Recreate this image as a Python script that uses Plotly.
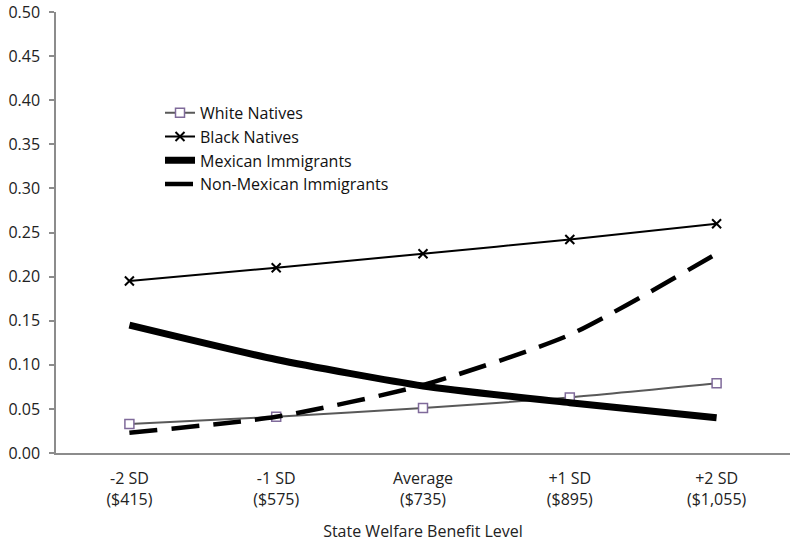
import plotly.graph_objects as go

categories = ["-2 SD<br>($415)", "-1 SD<br>($575)", "Average<br>($735)", "+1 SD<br>($895)", "+2 SD<br>($1,055)"]
white_natives = [0.033, 0.041, 0.051, 0.063, 0.079]
black_natives = [0.195, 0.210, 0.226, 0.242, 0.260]
mexican_imm = [0.145, 0.106, 0.076, 0.057, 0.040]
non_mexican_imm = [0.023, 0.041, 0.077, 0.134, 0.226]
y_ticks = [0.0, 0.05, 0.10, 0.15, 0.20, 0.25, 0.30, 0.35, 0.40, 0.45, 0.50]

font_family = "Open Sans, Noto Sans, sans-serif"

fig = go.Figure()
fig.add_trace(go.Scatter(
    x=categories, y=white_natives, name="White Natives", mode="lines+markers",
    line=dict(color="#595959", width=2, shape="spline", smoothing=0.6),
    marker=dict(symbol="square", size=9, color="white", line=dict(color="#7f6a9a", width=1.5)),
))
fig.add_trace(go.Scatter(
    x=categories, y=black_natives, name="Black Natives", mode="lines+markers",
    line=dict(color="black", width=2, shape="spline", smoothing=0.6),
    marker=dict(symbol="x-thin", size=9, color="black", line=dict(color="black", width=2)),
))
fig.add_trace(go.Scatter(
    x=categories, y=mexican_imm, name="Mexican Immigrants", mode="lines",
    line=dict(color="black", width=7, shape="spline", smoothing=0.6),
))
fig.add_trace(go.Scatter(
    x=categories, y=non_mexican_imm, name="Non-Mexican Immigrants", mode="lines",
    line=dict(color="black", width=4.5, shape="spline", smoothing=0.6, dash="28px,14px"),
))

fig.update_layout(
    width=800, height=547,
    margin=dict(l=56, r=10, t=12, b=94),
    paper_bgcolor="white", plot_bgcolor="white",
    font=dict(family=font_family, size=16, color="#222"),
    showlegend=True,
    legend=dict(x=0.1417, y=0.81, xanchor="left", yanchor="top",
                bgcolor="rgba(0,0,0,0)", font=dict(size=16, color="#111"),
                tracegroupgap=0),
    xaxis=dict(
        type="category", range=[-0.5, 4.5], automargin=False,
        showline=True, linecolor="#8c8c8c", linewidth=1.5,
        showgrid=False, ticks="", zeroline=False,
        ticklabelstandoff=10,
        title=dict(text="State Welfare Benefit Level", font=dict(size=16), standoff=17),
        tickfont=dict(size=16),
    ),
    yaxis=dict(
        range=[0, 0.5], tickvals=y_ticks, tickformat=".2f", automargin=False,
        showline=True, linecolor="#8c8c8c", linewidth=1.5,
        showgrid=False, zeroline=False,
        ticks="outside", ticklen=5, tickcolor="#8c8c8c", tickwidth=1.5,
        ticklabelstandoff=6,
        tickfont=dict(size=16),
    ),
)

fig.write_html("out.html", config={"displayModeBar": False},
               post_script="document.body.style.margin='0';")
